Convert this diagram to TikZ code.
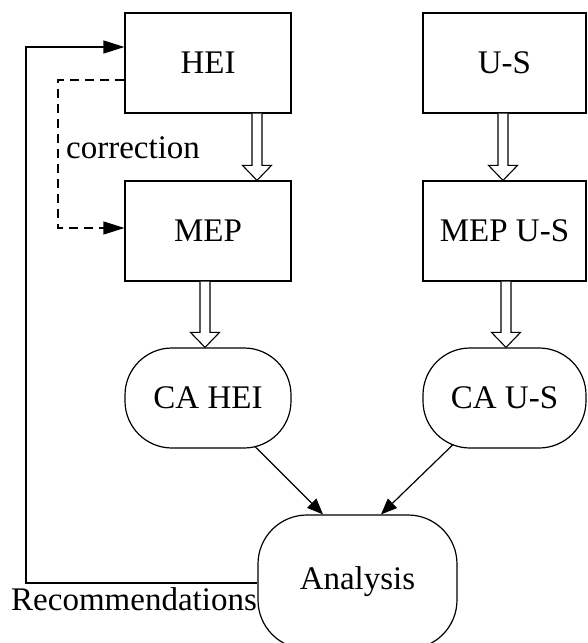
\documentclass[tikz,border=0pt]{standalone}
\usepackage{fontspec}
\setmainfont{Liberation Serif}
\usetikzlibrary{arrows.meta,calc}
% outlined block arrow from the bottom of one node to the top of another
\newcommand\hollowarrow[2]{%
  \draw[line width=1.1pt, fill=white] let \p1=#1, \p2=#2 in
    (\x1-5pt,\y1) -- (\x1-5pt,\y2+15pt) -- (\x1-14.5pt,\y2+15pt) -- (\x1,\y2)
    -- (\x1+14.5pt,\y2+15pt) -- (\x1+5pt,\y2+15pt) -- (\x1+5pt,\y1);}
\begin{document}
\begin{tikzpicture}[x=1pt,y=-1pt,
  every node/.style={font=\fontsize{33}{39}\selectfont},
  box/.style={draw, line width=1.2pt, minimum width=166pt, minimum height=100pt, inner sep=0pt},
  rbox/.style={box, rounded corners=47pt},
  link/.style={line width=1.2pt, -{Triangle[length=16pt,width=13pt]}},
  feedback/.style={line width=1.2pt, -{Triangle[length=21pt,width=13pt]}},
  dashlink/.style={feedback, dash pattern=on 9pt off 6pt},
  lbl/.style={inner sep=0pt}]
\useasboundingbox (0,0) rectangle (587,643);

% left column
\node[box] (hei) at (208,63) {HEI};
\node[box] (mep) at (208,231) {MEP};
\node[rbox] (cahei) at (208,398) {CA HEI};
% right column
\node[box, minimum width=163pt] (us) at (504.5,63) {U-S};
\node[box, minimum width=163pt] (mepus) at (504.5,231) {MEP U-S};
\node[rbox, minimum width=163pt] (caus) at (504.5,398) {CA U-S};
% analysis
\node[box, rounded corners=49pt, minimum width=199pt, minimum height=134pt] (an) at (357.5,582) {Analysis};

% block arrows
\hollowarrow{($(hei.south)+(49,0)$)}{(mep.north)}
\hollowarrow{($(us.south)+(-1.5,0)$)}{(mepus.north)}
\hollowarrow{($(mep.south)+(-3,0)$)}{(cahei.north)}
\hollowarrow{($(mepus.south)+(1.5,0)$)}{(caus.north)}

% results to analysis
\coordinate (a1) at ($(an.north)+(-34.5,0)$);
\coordinate (a2) at ($(an.north)+(23.5,0)$);
\coordinate (c1) at ($(cahei.south)+(47,-2)$);
\coordinate (c2) at ($(caus.south)+(-51.5,-4)$);
\draw[link] (c1) -- (a1);
\draw[link] (c2) -- (a2);

% recommendations feedback loop
\coordinate (r1) at ($(an.west)+(0,1)$);
\coordinate (r2) at (26,583);
\coordinate (r3) at (26,47);
\coordinate (h1) at ($(hei.west)+(0,-16)$);
\draw[feedback] (r1) -- (r2) -- (r3) -- (h1);
\node[lbl, anchor=base west] (rec) at (11,610) {Recommendations};

% correction loop
\coordinate (d1) at ($(hei.west)+(0,17)$);
\coordinate (d2) at (58,80);
\coordinate (d3) at (58,228);
\coordinate (m1) at ($(mep.west)+(0,-3)$);
\draw[dashlink] (d1) -- (d2) -- (d3) -- (m1);
\node[lbl, anchor=west] (corr) at (66,148) {correction};
\end{tikzpicture}
\end{document}
